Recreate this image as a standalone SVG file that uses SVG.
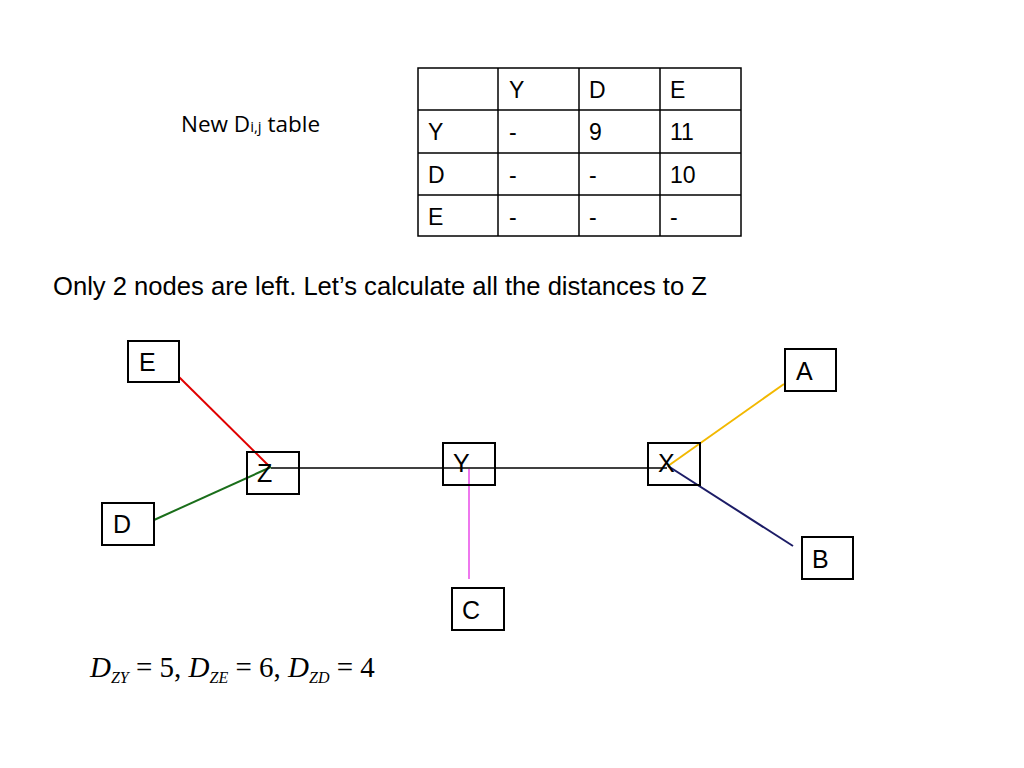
<svg xmlns="http://www.w3.org/2000/svg" width="1024" height="768" viewBox="0 0 1024 768">
<style>
.t{font-family:"Liberation Sans",Arial,sans-serif;font-size:25px;fill:#000}
.tb{font-family:"Liberation Sans",Arial,sans-serif;font-size:23px;fill:#000}
.box{fill:#fff;stroke:#000;stroke-width:2}
.grid{fill:none;stroke:#000;stroke-width:1.5}
.m{font-family:"Liberation Serif","Times New Roman",serif;fill:#000}
</style>
<rect width="1024" height="768" fill="#fff"/>
<g id="table">
<rect class="grid" x="418" y="68" width="323" height="168"/>
<line class="grid" x1="498" y1="68" x2="498" y2="236"/>
<line class="grid" x1="579" y1="68" x2="579" y2="236"/>
<line class="grid" x1="660" y1="68" x2="660" y2="236"/>
<line class="grid" x1="418" y1="110" x2="741" y2="110"/>
<line class="grid" x1="418" y1="153" x2="741" y2="153"/>
<line class="grid" x1="418" y1="195" x2="741" y2="195"/>
<text class="tb" x="509" y="98">Y</text>
<text class="tb" x="589" y="98">D</text>
<text class="tb" x="670" y="98">E</text>
<text class="tb" x="428" y="140">Y</text>
<text class="tb" x="509" y="140">-</text>
<text class="tb" x="589" y="140">9</text>
<text class="tb" x="670" y="140">11</text>
<text class="tb" x="428" y="183">D</text>
<text class="tb" x="509" y="183">-</text>
<text class="tb" x="589" y="183">-</text>
<text class="tb" x="670" y="183">10</text>
<text class="tb" x="428" y="225">E</text>
<text class="tb" x="509" y="225">-</text>
<text class="tb" x="589" y="225">-</text>
<text class="tb" x="670" y="225">-</text>
</g>
<text x="181" y="132" style="font-family:'Open Sans','Noto Sans',sans-serif;font-size:22.5px">New D<tspan font-size="15">i,j</tspan> table</text>
<text class="t" x="53" y="295" style="font-size:25.6px">Only 2 nodes are left. Let’s calculate all the distances to Z</text>
<g id="connectors" fill="none" stroke-width="2">
<line x1="271" y1="468" x2="667" y2="468" stroke="#000" stroke-width="1.5"/>
<line x1="179" y1="377" x2="270" y2="467" stroke="#e00000"/>
<line x1="154" y1="520" x2="271" y2="467" stroke="#1a6e1a"/>
<line x1="469" y1="469" x2="469" y2="579" stroke="#ee77ee"/>
<line x1="784" y1="384" x2="668" y2="466" stroke="#f2b800"/>
<line x1="668" y1="466" x2="793" y2="546" stroke="#1c1c66"/>
</g>
<g id="node-E"><rect class="box" x="128" y="341" width="51" height="41"/><text class="t" x="139" y="371">E</text></g>
<g id="node-Z"><rect class="box" x="247" y="452" width="52" height="42" style="fill:none"/><text class="t" x="257" y="482">Z</text></g>
<g id="node-D"><rect class="box" x="102" y="503" width="52" height="42"/><text class="t" x="113" y="533">D</text></g>
<g id="node-Y"><rect class="box" x="443" y="443" width="52" height="42" style="fill:none"/><text class="t" x="453" y="472">Y</text></g>
<g id="node-X"><rect class="box" x="648" y="443" width="52" height="42" style="fill:none"/><text class="t" x="658" y="472">X</text></g>
<g id="node-C"><rect class="box" x="452" y="588" width="52" height="42"/><text class="t" x="462" y="619">C</text></g>
<g id="node-A"><rect class="box" x="785" y="349" width="51" height="42"/><text class="t" x="796" y="380">A</text></g>
<g id="node-B"><rect class="box" x="802" y="537" width="51" height="42"/><text class="t" x="812" y="568">B</text></g>
<text class="m" x="90" y="677" font-size="29"><tspan font-style="italic">D</tspan><tspan font-style="italic" font-size="16" dy="6">ZY</tspan><tspan dy="-6"> = 5, </tspan><tspan font-style="italic">D</tspan><tspan font-style="italic" font-size="16" dy="6">ZE</tspan><tspan dy="-6"> = 6, </tspan><tspan font-style="italic">D</tspan><tspan font-style="italic" font-size="16" dy="6">ZD</tspan><tspan dy="-6"> = 4</tspan></text>
</svg>
